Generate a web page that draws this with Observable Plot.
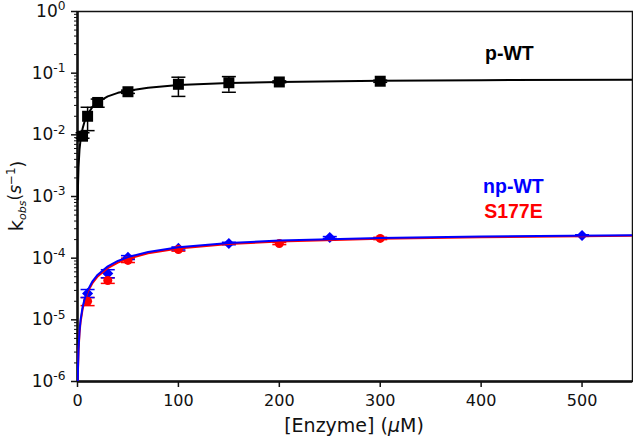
<!DOCTYPE html>
<html><head><meta charset="utf-8">
<script src="https://cdn.jsdelivr.net/npm/d3@7"></script>
<script src="https://cdn.jsdelivr.net/npm/@observablehq/plot@0.6"></script>
<style>body{margin:0;background:#fff}</style>
</head><body><div id="chart"></div>
<script>
// p-WT (black squares)
const pX  = [5, 10, 20, 50, 100, 150, 200, 300];
const pY  = [0.0095, 0.020, 0.0335, 0.050, 0.066, 0.070, 0.072, 0.074];
const pLo = [0.0088, 0.0117, 0.028, 0.047, 0.042, 0.049, 0.070, 0.071];
const pHi = [0.0108, 0.028, 0.038, 0.053, 0.086, 0.088, 0.075, 0.077];
// np-WT (blue diamonds)
const bX  = [10, 30, 50, 100, 150, 250, 500];
const bY  = [2.67e-5, 5.65e-5, 1.03e-4, 1.44e-4, 1.73e-4, 2.16e-4, 2.33e-4];
const bLo = [2.3e-5, 4.8e-5, 9.5e-5, 1.36e-4, 1.65e-4, 2.08e-4, 2.26e-4];
const bHi = [3.1e-5, 6.5e-5, 1.1e-4, 1.52e-4, 1.81e-4, 2.24e-4, 2.40e-4];
// S177E (red circles)
const rX  = [10, 30, 50, 100, 200, 300];
const rY  = [2.0e-5, 4.35e-5, 9.2e-5, 1.38e-4, 1.73e-4, 2.09e-4];
const rLo = [1.7e-5, 3.9e-5, 8.5e-5, 1.30e-4, 1.66e-4, 2.0e-4];
const rHi = [2.3e-5, 4.8e-5, 1.0e-4, 1.46e-4, 1.80e-4, 2.18e-4];
// fitted curves
const fitX  = [0.3, 0.5, 1, 2, 3, 5, 7, 10, 15, 20, 30, 40, 50, 70, 100, 150, 200, 300, 400, 550];
const fitP  = [0.0009, 0.0015, 0.003, 0.0058, 0.0082, 0.0125, 0.0165, 0.0215, 0.0285, 0.034, 0.042, 0.048, 0.052, 0.058, 0.064, 0.069, 0.072, 0.0755, 0.077, 0.0785];
const fitB  = [1.0e-6, 1.68e-6, 3.33e-6, 6.6e-6, 9.8e-6, 1.59e-5, 2.17e-5, 3.0e-5, 4.26e-5, 5.4e-5, 7.36e-5, 9.0e-5, 1.04e-4, 1.26e-4, 1.5e-4, 1.76e-4, 1.93e-4, 2.13e-4, 2.25e-4, 2.36e-4];
const fitR  = [0.93e-6, 1.55e-6, 3.08e-6, 6.1e-6, 9.0e-6, 1.47e-5, 2.02e-5, 2.79e-5, 3.98e-5, 5.05e-5, 6.9e-5, 8.48e-5, 9.8e-5, 1.2e-4, 1.43e-4, 1.69e-4, 1.86e-4, 2.06e-4, 2.18e-4, 2.3e-4];
// ticks
const xTicks = [0, 100, 200, 300, 400, 500];
const yMajor = [1e-6, 1e-5, 1e-4, 1e-3, 1e-2, 1e-1, 1];
const yExp   = ["-6", "-5", "-4", "-3", "-2", "-1", "0"];
const yMinor = [];
for (let e = -6; e < 0; e++) for (let m = 2; m <= 9; m++) yMinor.push(m * Math.pow(10, e));
// series labels
const labels = [
  {x: 428, y: 0.205, text: "p-WT", color: "#000"},
  {x: 432, y: 1.45e-3, text: "np-WT", color: "#0000ff"},
  {x: 432, y: 5.6e-4, text: "S177E", color: "#ff0000"}
];

const rows = (xs, ys, lo, hi) => xs.map((x, i) => ({x, y: ys[i], lo: lo[i], hi: hi[i]}));
const P = rows(pX, pY, pLo, pHi), B = rows(bX, bY, bLo, bHi), R = rows(rX, rY, rLo, rHi);
const FP = fitX.map((x, i) => ({x, y: fitP[i]}));
const FB = fitX.map((x, i) => ({x, y: fitB[i]}));
const FR = fitX.map((x, i) => ({x, y: fitR[i]}));

const cap = {draw(ctx, size) { const w = Math.sqrt(size / Math.PI); ctx.moveTo(-w, 0); ctx.lineTo(w, 0); }};
const errs = (data, color) => [
  Plot.ruleX(data, {x: "x", y1: "lo", y2: "hi", stroke: color, strokeWidth: 1.5}),
  Plot.dot(data, {x: "x", y: "lo", symbol: cap, r: 7, stroke: color, strokeWidth: 1.5}),
  Plot.dot(data, {x: "x", y: "hi", symbol: cap, r: 7, stroke: color, strokeWidth: 1.5})
];

const font = "DejaVu Sans, sans-serif";
const chart = Plot.plot({
  width: 633, height: 440,
  marginLeft: 77, marginRight: 1, marginTop: 11, marginBottom: 59,
  style: {fontFamily: font, fontSize: "16px", color: "#111", background: "#fff"},
  x: {domain: [0, 550], label: null},
  y: {type: "log", domain: [1e-6, 1], label: null},
  marks: [
    Plot.axisX(xTicks, {tickSize: 6, tickPadding: 7, label: null, fontSize: 16, strokeWidth: 1.5}),
    Plot.axisY(yMinor, {tickSize: 3, tickFormat: null, label: null, strokeWidth: 1}),
    Plot.axisY(yMajor, {tickSize: 6, tickPadding: 6, label: null, fontSize: 17, strokeWidth: 1.5,
      tickFormat: d => "10^" + yExp[yMajor.findIndex(v => Math.abs(v - d) / v < 1e-6)]}),
    Plot.frame({stroke: "#111", strokeWidth: 1.5}),
    Plot.ruleX([0], {stroke: "#111", strokeWidth: 2.5}),
    Plot.ruleY([1e-6], {stroke: "#111", strokeWidth: 2.5}),
    ...errs(P, "#000"),
    Plot.line(FP, {x: "x", y: "y", stroke: "#000", strokeWidth: 2, clip: true}),
    Plot.dot(P, {x: "x", y: "y", symbol: "square", r: 6.2, fill: "#000"}),
    ...errs(R, "#ff0000"),
    ...errs(B, "#0000ff"),
    Plot.dot(B, {x: "x", y: "y", symbol: "diamond2", r: 5, fill: "#0000ff"}),
    Plot.dot(R, {x: "x", y: "y", r: 4.5, fill: "#ff0000"}),
    Plot.line(FR, {x: "x", y: "y", stroke: "#ff0000", strokeWidth: 2, clip: true}),
    Plot.line(FB, {x: "x", y: "y", stroke: "#0000ff", strokeWidth: 2, clip: true}),
    Plot.text(labels, {x: "x", y: "y", text: "text", fill: "color", fontWeight: "bold", fontSize: 19.5,
                       fontFamily: "Liberation Sans, Arial, sans-serif"})
  ]
});

const svg = d3.select(chart);
// superscript tick labels
svg.selectAll('g[aria-label="y-axis tick label"] text').each(function() {
  const t = d3.select(this);
  const s = t.text();
  if (!s.includes("^")) return;
  const [base, exp] = s.split("^");
  t.text(null);
  t.append("tspan").text(base);
  t.append("tspan").attr("dy", "-0.55em").attr("font-size", "0.72em").text(exp);
});
// axis titles
svg.append("text").attr("x", 354).attr("y", 432).attr("text-anchor", "middle")
  .attr("font-family", font).attr("font-size", 19).attr("fill", "#111")
  .call(t => { t.append("tspan").text("[Enzyme] ("); t.append("tspan").attr("font-style", "italic").text("μ"); t.append("tspan").text("M)"); });
svg.append("text").attr("transform", "translate(23,196) rotate(-90)").attr("text-anchor", "middle")
  .attr("font-family", font).attr("font-size", 17).attr("fill", "#111")
  .call(t => {
    t.append("tspan").attr("font-size", "1.15em").text("k");
    t.append("tspan").attr("font-style", "italic").attr("font-size", "0.65em").attr("dy", "0.3em").text("obs");
    t.append("tspan").attr("dy", "-0.3em").text("(");
    t.append("tspan").attr("font-style", "italic").text("s");
    t.append("tspan").attr("font-size", "0.7em").attr("dy", "-0.5em").text("−1");
    t.append("tspan").attr("dy", "0.5em").text(")");
  });
document.getElementById("chart").appendChild(chart);
</script>
</body></html>
